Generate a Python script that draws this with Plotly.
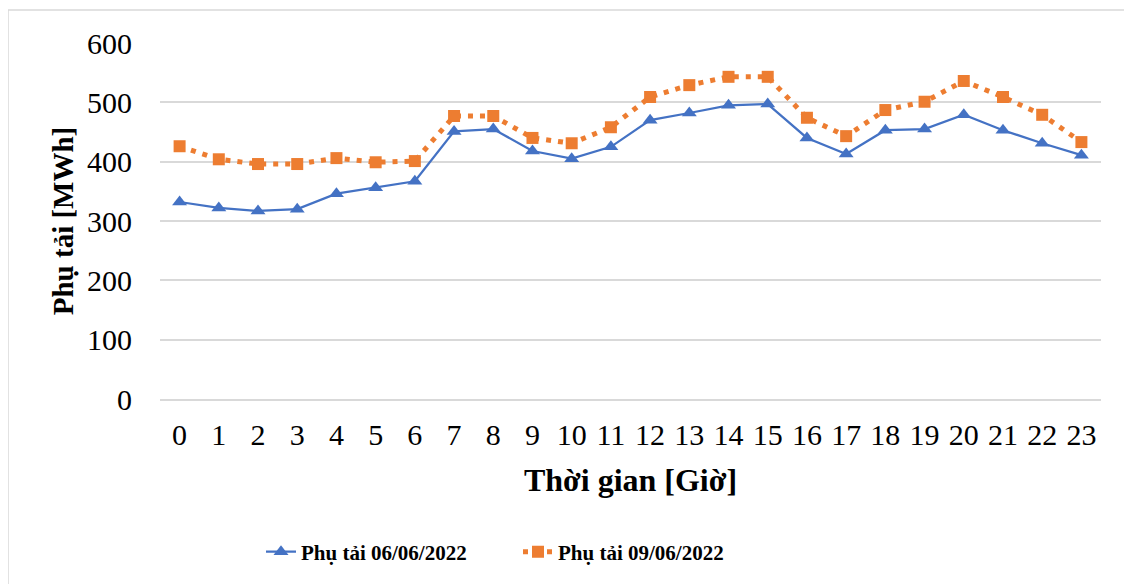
import plotly.graph_objects as go

hours = list(range(24))
load_0606 = [332, 322, 317, 320, 346, 356, 367, 451, 455, 418, 405, 425,
             470, 482, 495, 497, 440, 413, 453, 455, 479, 453, 431, 411]
load_0906 = [426, 404, 396, 396, 406, 399, 401, 477, 477, 440, 431, 458,
             509, 529, 543, 543, 474, 443, 487, 501, 536, 509, 479, 433]
name_a = "Phụ tải 06/06/2022"
name_b = "Phụ tải 09/06/2022"

font_family = "Liberation Serif, Times New Roman, serif"

W, H = 1124, 576
L, R, T, B = 152, 31, 35, 185
PW, PH = W - L - R, H - T - B

fig = go.Figure()
fig.add_trace(go.Scatter(
    x=hours, y=load_0606, name=name_a, mode="lines+markers",
    line=dict(color="#4472C4", width=2.25),
    marker=dict(symbol="triangle-up", size=13, color="#4472C4"),
))
fig.add_trace(go.Scatter(
    x=hours, y=load_0906, name=name_b, mode="lines+markers",
    line=dict(color="#ED7D31", width=5, dash="5px,7px"),
    marker=dict(symbol="square", size=12, color="#ED7D31"),
))

fig.update_layout(
    width=W, height=H,
    margin=dict(l=L, r=R, t=T, b=B),
    paper_bgcolor="white", plot_bgcolor="white",
    font=dict(family=font_family, color="black"),
    showlegend=True,
    legend=dict(orientation="h", x=(510 - L) / PW, xanchor="center",
                y=(T + PH - 544) / PH, yanchor="middle",
                font=dict(size=21, family=font_family, color="black", weight="bold"),
                entrywidth=212, entrywidthmode="pixels", traceorder="normal"),
    xaxis=dict(range=[-0.5, 23.5], tickmode="array", tickvals=hours,
               ticktext=[str(h) for h in hours], showgrid=False,
               showline=True, linecolor="#d9d9d9", linewidth=1.5,
               ticks="", tickfont=dict(size=30), ticklabelstandoff=8,
               title=dict(text="<b>Thời gian [Giờ]</b>", font=dict(size=32), standoff=19),
               zeroline=False),
    yaxis=dict(range=[0, 600], dtick=100, showgrid=True, gridcolor="#d9d9d9",
               gridwidth=1.5, zeroline=False, ticks="", tickfont=dict(size=30),
               ticklabelstandoff=27,
               title=dict(text="<b>Phụ tải [MWh]</b>", font=dict(size=29), standoff=4)),
    shapes=[dict(type="rect", xref="paper", yref="paper",
                 x0=(0 - L) / PW, x1=(1122 - L) / PW,
                 y0=(T + PH - 600) / PH, y1=(T + PH - 2) / PH,
                 line=dict(color="#d9d9d9", width=1.5), fillcolor="rgba(0,0,0,0)",
                 layer="below")],
)

fig.write_html("out.html")
